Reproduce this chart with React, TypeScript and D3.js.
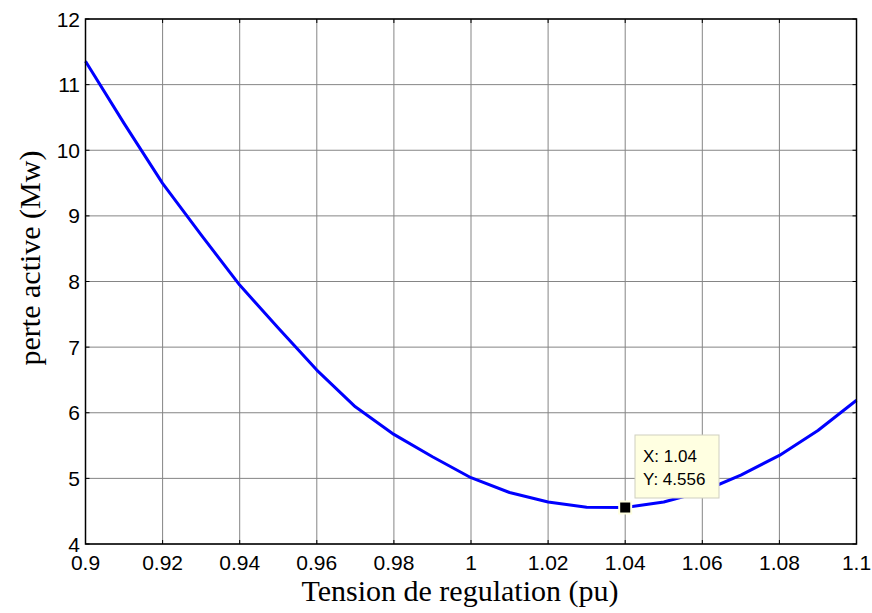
import React from "react";
import * as d3 from "d3";

// tension (pu) vs perte active (Mw)
const tension = [0.9, 0.91, 0.92, 0.93, 0.94, 0.95, 0.96, 0.97, 0.98, 0.99, 1.0,
  1.01, 1.02, 1.03, 1.04, 1.05, 1.06, 1.07, 1.08, 1.09, 1.1];
const perte = [11.355, 10.41, 9.495, 8.71, 7.945, 7.29, 6.65, 6.09, 5.67, 5.33, 5.01,
  4.785, 4.64, 4.56, 4.556, 4.64, 4.8, 5.05, 5.35, 5.73, 6.19];
const xTicks = [0.9, 0.92, 0.94, 0.96, 0.98, 1, 1.02, 1.04, 1.06, 1.08, 1.1];
const yTicks = [4, 5, 6, 7, 8, 9, 10, 11, 12];
const marker = { x: 1.04, y: 4.556 };

const W = 872, H = 613;
const m = { left: 85.5, right: 856.5, top: 19, bottom: 544 };

export default function App() {
  const x = d3.scaleLinear().domain([0.9, 1.1]).range([m.left, m.right]);
  const y = d3.scaleLinear().domain([4, 12]).range([m.bottom, m.top]);
  const pts = tension.map((t, i) => [t, perte[i]] as [number, number]);
  const line = d3.line<[number, number]>().x(d => x(d[0])).y(d => y(d[1]));
  const tk = 4;
  const mx = x(marker.x), my = y(marker.y);

  return (
    <svg width={W} height={H} style={{ position: "absolute", left: 0, top: 0, background: "#fff" }}>
      <rect x={m.left} y={m.top} width={m.right - m.left} height={m.bottom - m.top} fill="#fff" />
      {/* grid */}
      {xTicks.map(t => (
        <line key={"gx" + t} x1={x(t)} x2={x(t)} y1={m.top} y2={m.bottom} stroke="#858585" strokeWidth={1} />
      ))}
      {yTicks.map(t => (
        <line key={"gy" + t} x1={m.left} x2={m.right} y1={y(t)} y2={y(t)} stroke="#858585" strokeWidth={1} />
      ))}
      {/* inward ticks on all sides */}
      {xTicks.map(t => (
        <g key={"tx" + t} stroke="#000" strokeWidth={1}>
          <line x1={x(t)} x2={x(t)} y1={m.bottom} y2={m.bottom - tk} />
          <line x1={x(t)} x2={x(t)} y1={m.top} y2={m.top + tk} />
        </g>
      ))}
      {yTicks.map(t => (
        <g key={"ty" + t} stroke="#000" strokeWidth={1}>
          <line x1={m.left} x2={m.left + tk} y1={y(t)} y2={y(t)} />
          <line x1={m.right} x2={m.right - tk} y1={y(t)} y2={y(t)} />
        </g>
      ))}
      <path d={line(pts) ?? ""} fill="none" stroke="#0000ff" strokeWidth={3} strokeLinejoin="round" />
      <rect x={m.left} y={m.top} width={m.right - m.left} height={m.bottom - m.top}
        fill="none" stroke="#000" strokeWidth={1.5} />
      {/* tick labels */}
      <g fontFamily="Liberation Sans, Arial, sans-serif" fontSize={21} fill="#000">
        {xTicks.map(t => (
          <text key={"lx" + t} x={x(t)} y={570} textAnchor="middle">{String(+t.toFixed(2))}</text>
        ))}
        {yTicks.map(t => (
          <text key={"ly" + t} x={80} y={y(t) + 7.5} textAnchor="end">{t}</text>
        ))}
      </g>
      {/* axis titles */}
      <text x={460} y={601} textAnchor="middle"
        fontFamily="Liberation Serif, Times New Roman, serif" fontSize={30}>Tension de regulation (pu)</text>
      <text transform={`translate(40, 258) rotate(-90)`} textAnchor="middle"
        fontFamily="Liberation Serif, Times New Roman, serif" fontSize={30}>perte active (Mw)</text>
      {/* data tip */}
      <rect x={mx - 6} y={my - 6} width={12} height={12} fill="#000" stroke="#ffffe1" strokeWidth={2} />
      <rect x={635} y={435} width={84} height={63} fill="#ffffe1" stroke="#cfcfc0" strokeWidth={1} />
      <g fontFamily="Liberation Sans, Arial, sans-serif" fontSize={17} fill="#000">
        <text x={643} y={462}>X: {marker.x}</text>
        <text x={643} y={485}>Y: {marker.y}</text>
      </g>
    </svg>
  );
}
